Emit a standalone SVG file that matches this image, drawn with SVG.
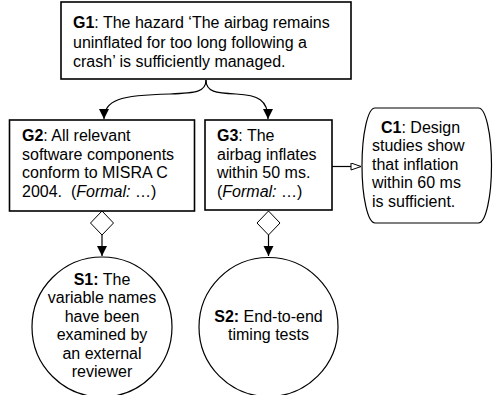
<svg xmlns="http://www.w3.org/2000/svg" width="493" height="395" viewBox="0 0 493 395">
<style>
text{font-family:"Liberation Sans",Arial,sans-serif;font-size:16px;fill:#000}
.b{font-weight:bold}
.i{font-style:italic}
.box{fill:#fff;stroke:#000;stroke-width:1.6}
.sol{fill:#fff;stroke:#000;stroke-width:1.2}
.ln{fill:none;stroke:#000;stroke-width:1.2}
.dia{fill:#fff;stroke:#000;stroke-width:1}
</style>
<defs>
<marker id="ah" markerUnits="userSpaceOnUse" markerWidth="10" markerHeight="12" refX="10" refY="5" orient="auto">
<path d="M0,0 L10,5 L0,10 z" fill="#000"/>
</marker>
<marker id="oh" markerUnits="userSpaceOnUse" markerWidth="12" markerHeight="10" refX="11" refY="4" orient="auto">
<path d="M1,0.5 L11,4 L1,7.5 z" fill="#fff" stroke="#000" stroke-width="1"/>
</marker>
</defs>
<g id="connectors">
<path class="ln" d="M206,80 C206,92 196,93 170,94 C120,95 104,100 104,119" marker-end="url(#ah)"/>
<path class="ln" d="M206,80 C206,92 216,93 236,94 C258,95 268,100 268,119" marker-end="url(#ah)"/>
<path class="dia" d="M102,211 L113.5,223 L102,235 L90.5,223 z"/>
<path class="ln" d="M102,235 V256" marker-end="url(#ah)"/>
<path class="dia" d="M268.5,211 L280,223 L268.5,235 L257,223 z"/>
<path class="ln" d="M268.5,235 V256" marker-end="url(#ah)"/>
<path class="ln" d="M332,166.5 H361" marker-end="url(#oh)"/>
</g>
<g id="G1">
<rect class="box" x="61" y="2" width="290" height="77"/>
<text x="73" y="28"><tspan class="b">G1</tspan>: The hazard ‘The airbag remains</text>
<text x="73" y="47.5">uninflated for too long following a</text>
<text x="73" y="67">crash’ is sufficiently managed.</text>
</g>
<g id="G2">
<rect class="box" x="9.5" y="120" width="185" height="91"/>
<text x="22" y="141"><tspan class="b">G2</tspan>: All relevant</text>
<text x="22" y="159.5">software components</text>
<text x="22" y="178">conform to MISRA C</text>
<text x="22" y="196.5" xml:space="preserve">2004.  (<tspan class="i">Formal:</tspan> …)</text>
</g>
<g id="G3">
<rect class="box" x="205" y="120" width="127" height="90"/>
<text x="217" y="141"><tspan class="b">G3</tspan>: The</text>
<text x="217" y="159.5">airbag inflates</text>
<text x="217" y="178">within 50 ms.</text>
<text x="217" y="196.5">(<tspan class="i">Formal:</tspan> …)</text>
</g>
<g id="C1">
<rect class="sol" x="362" y="108" width="129.5" height="115" rx="13" ry="57.5"/>
<text x="381" y="132.5"><tspan class="b">C1</tspan>: Design</text>
<text x="372" y="151">studies show</text>
<text x="372" y="169.5">that inflation</text>
<text x="372" y="188">within 60 ms</text>
<text x="372" y="206.5">is sufficient.</text>
</g>
<g id="S1">
<circle class="sol" cx="102" cy="327" r="70"/>
<text x="102" y="284.5" text-anchor="middle"><tspan class="b">S1:</tspan> The</text>
<text x="102" y="303" text-anchor="middle">variable names</text>
<text x="102" y="321.5" text-anchor="middle">have been</text>
<text x="102" y="340" text-anchor="middle">examined by</text>
<text x="102" y="358.5" text-anchor="middle">an external</text>
<text x="102" y="377" text-anchor="middle">reviewer</text>
</g>
<g id="S2">
<circle class="sol" cx="268.5" cy="327" r="69.5"/>
<text x="268.5" y="321.5" text-anchor="middle"><tspan class="b">S2:</tspan> End-to-end</text>
<text x="268.5" y="340" text-anchor="middle">timing tests</text>
</g>
</svg>
